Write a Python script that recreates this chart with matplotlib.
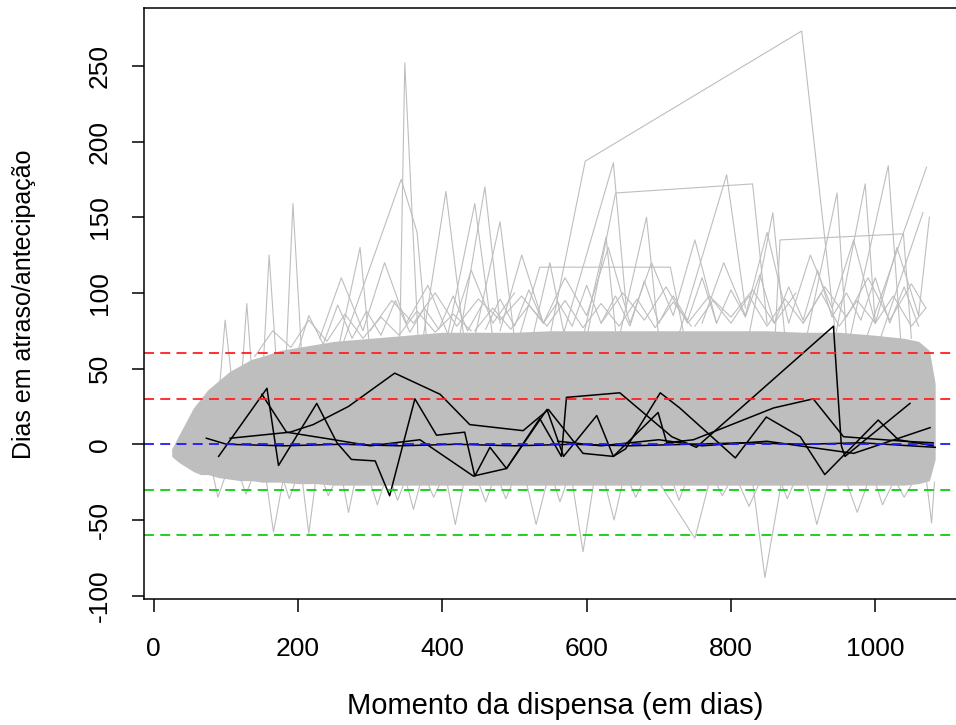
import matplotlib
matplotlib.use("Agg")
import matplotlib.pyplot as plt

plt.rcParams['font.family'] = ['Liberation Sans', 'DejaVu Sans']
plt.rcParams['axes.unicode_minus'] = False

GREY = '#bebebe'

# dense grey mass of all patient series (upper / lower envelope)
band_x = [25, 35, 45, 55, 65, 75, 90, 105, 120, 135, 150, 175, 200, 225, 250, 300, 350, 400,
          450, 500, 550, 600, 650, 700, 750, 800, 850, 900, 950, 1000, 1040, 1060, 1075, 1083]
band_hi = [-3, 6, 15, 24, 30, 36, 42, 48, 52, 56, 58, 62, 64, 66, 68, 70, 72, 74,
           74, 74, 75, 75, 75, 75, 75, 75, 75, 74, 74, 72, 70, 68, 62, 40]
band_lo = [-8, -12, -15, -18, -20, -20, -22, -23, -24, -24, -25, -25, -26, -26, -27, -27, -27, -27,
           -27, -27, -27, -27, -27, -27, -27, -27, -27, -27, -27, -27, -27, -26, -24, -10]

# grey series that stand out of the mass
grey_x = [
    [340, 348, 368], [182, 193, 208], [150, 160, 172], [120, 129, 138], [90, 99, 110],
    [250, 343, 365, 380], [370, 405, 430], [420, 459, 480], [400, 445, 470], [440, 480, 500],
    [540, 598, 898, 944], [560, 637, 655], [600, 640, 830, 850], [720, 794, 820],
    [640, 683, 700], [590, 627, 640], [960, 1018, 1035], [980, 1071], [940, 986, 1000],
    [900, 947, 960], [860, 868, 1039, 1050], [1000, 1066], [820, 858, 875],
    [500, 535, 716, 740], [520, 549, 570], [250, 286, 300],
    [230, 260, 290, 320, 350, 380, 410, 440, 470, 500],
    [480, 510, 540, 570, 600, 630, 660, 690, 720, 750, 780],
    [760, 790, 820, 850, 880, 910, 940, 970, 1000, 1030, 1060, 1075],
    [300, 330, 360, 390, 420, 450, 480, 510, 540],
    [620, 650, 680, 710, 740, 770, 800, 830, 860, 890],
    [900, 930, 960, 990, 1020, 1050, 1070],
    [200, 215, 235, 255, 275, 295, 315, 335, 355, 375, 395, 415, 435, 455],
    [460, 480, 500, 520, 540, 560, 580, 600, 620, 640, 660, 680, 700],
    [700, 720, 740, 760, 780, 800, 820, 840, 860, 880, 900, 920, 940, 960, 980, 1000, 1020, 1040, 1060],
    [140, 165, 190, 215, 240, 265, 290, 315, 340, 365, 390, 415, 440],
    [445, 470, 495, 520, 545, 570, 595, 620, 645, 670, 695, 720, 745],
    [750, 775, 800, 825, 850, 875, 900, 925, 950, 975, 1000, 1025, 1050, 1070],
    [155, 166, 180], [205, 215, 225], [260, 270, 280], [405, 418, 430], [515, 530, 545],
    [580, 595, 610], [700, 750, 770], [830, 847, 870], [905, 919, 935], [1070, 1078, 1082],
    [80, 89, 100], [625, 638, 650], [810, 825, 840], [300, 310, 320], [350, 360, 370],
    [450, 460, 470], [960, 975, 990], [1000, 1010, 1025], [120, 128, 136], [180, 188, 196],
    [235, 242, 250], [330, 338, 346], [380, 388, 396], [480, 488, 496], [555, 563, 571],
    [660, 668, 676], [720, 728, 736], [780, 788, 796], [870, 878, 886], [1030, 1040, 1050],
]
grey_y = [
    [40, 252, 55], [40, 159, 35], [35, 125, 40], [30, 93, 35], [30, 82, 35],
    [50, 175, 140, 60], [60, 167, 70], [60, 170, 80], [55, 159, 70], [60, 147, 70],
    [50, 187, 273, 76], [60, 186, 90], [70, 166, 172, 80], [60, 178, 90],
    [60, 150, 70], [60, 137, 75], [60, 184, 70], [60, 183], [60, 172, 80],
    [60, 166, 70], [60, 135, 139, 70], [60, 153], [60, 153, 70],
    [60, 117, 117, 60], [60, 120, 70], [50, 130, 60],
    [70, 110, 75, 120, 80, 105, 70, 115, 80, 100],
    [75, 125, 80, 110, 85, 130, 80, 120, 85, 135, 80],
    [80, 120, 85, 140, 80, 125, 90, 135, 80, 130, 85, 150],
    [75, 95, 80, 100, 78, 96, 82, 98, 80],
    [80, 100, 82, 104, 80, 98, 84, 102, 80, 100],
    [80, 104, 84, 110, 82, 106, 90],
    [62, 85, 66, 92, 70, 88, 72, 95, 74, 90, 76, 98, 75, 92],
    [76, 96, 78, 102, 80, 94, 78, 105, 80, 98, 78, 108, 80],
    [80, 98, 82, 110, 80, 102, 84, 112, 80, 104, 82, 115, 84, 100, 82, 110, 80, 104, 78],
    [58, 75, 64, 82, 68, 86, 70, 84, 72, 88, 74, 86, 75],
    [75, 90, 76, 92, 78, 95, 77, 93, 78, 96, 77, 94, 78],
    [78, 95, 80, 98, 78, 96, 80, 100, 78, 95, 80, 98, 78, 90],
    [-20, -58, -22], [-20, -59, -22], [-20, -45, -22], [-22, -53, -25], [-22, -53, -25],
    [-25, -71, -25], [-25, -62, -25], [-25, -88, -25], [-25, -53, -25], [-20, -52, -25],
    [-15, -35, -20], [-25, -50, -25], [-25, -41, -25], [-25, -40, -25], [-25, -43, -25],
    [-25, -38, -25], [-25, -45, -25], [-25, -40, -25], [-22, -33, -23], [-24, -36, -25],
    [-25, -34, -26], [-26, -37, -27], [-26, -35, -27], [-26, -36, -27], [-26, -38, -27],
    [-26, -35, -27], [-26, -37, -27], [-26, -34, -27], [-26, -36, -27], [-26, -35, -27],
]

# highlighted patients (black)
black_x = [
    [73, 101, 180, 260, 340, 420, 500, 580, 660, 740, 820, 900, 980, 1083],
    [90, 157, 173, 226, 254, 274, 307, 327, 362, 392, 431, 445, 466, 489, 535, 565, 572,
     646, 718, 752, 942, 953, 958, 1048],
    [106, 189, 221, 270, 334, 397, 438, 512, 547, 595, 637, 699, 711, 748, 859, 914, 956,
     1040, 1080],
    [150, 184, 250, 300, 369, 443, 489, 545, 568, 614, 637, 654, 702, 729, 806, 849, 896,
     930, 1004, 1032, 1080],
    [560, 620, 700, 760, 850, 970, 1076],
]
black_y = [
    [4, 0, -1, 0, -1, 0, -1, 0, -1, 0, 1, 0, 1, -2],
    [-8, 37, -14, 27, 1, -10, -11, -34, 30, 6, 8, -21, -2, -16, 17, -8, 31,
     34, 5, -2, 78, -1, -8, 27],
    [4, 8, 13, 25, 47, 33, 13, 9, 23, -6, -8, 21, 1, 3, 24, 30, 5,
     2, 1],
    [33, 8, 3, -1, 3, -21, -16, 23, -8, 19, -8, -3, 34, 24, -9, 18, 5,
     -20, 16, 3, -1],
    [2, -1, 3, -1, 2, -6, 11],
]

ref_levels = [60, 30, 0, -30, -60]
ref_colors = ['#ff2020', '#ff2020', '#1a1aff', '#10cc10', '#10cc10']

fig = plt.figure(figsize=(9.56, 7.25), dpi=100)
ax = fig.add_axes([144 / 956, 126 / 725, 822 / 956, 591 / 725])

ax.fill_between(band_x, band_lo, band_hi, color=GREY, lw=0)
for xs, ys in zip(grey_x, grey_y):
    ax.plot(xs, ys, color=GREY, lw=0.8)
for xs, ys in zip(black_x, black_y):
    ax.plot(xs, ys, color='black', lw=1.1)
for lev, col in zip(ref_levels, ref_colors):
    ax.axhline(lev, color=col, lw=1.3, linestyle=(0, (5.5, 3.5)))

ax.set_xlim(-13.4, 1125.7)
ax.set_ylim(-102.2, 288.2)
ax.set_xticks([0, 200, 400, 600, 800, 1000])
ax.set_yticks([-100, -50, 0, 50, 100, 150, 200, 250])
for s in ax.spines.values():
    s.set_linewidth(1.1)
ax.tick_params(direction='out', length=9, width=1.1, labelsize=19)
ax.tick_params(axis='x', pad=18)
ax.tick_params(axis='y', pad=14)
for lab in ax.get_yticklabels():
    lab.set_rotation(90)
    lab.set_va('center')

fig.text(555 / 956, 1 - 706 / 725, 'Momento da dispensa (em dias)', ha='center', va='center', fontsize=21)
fig.text(24 / 956, 1 - 304 / 725, 'Dias em atraso/antecipação', ha='center', va='center',
         rotation=90, fontsize=18)

fig.savefig('out.png', dpi=100)
